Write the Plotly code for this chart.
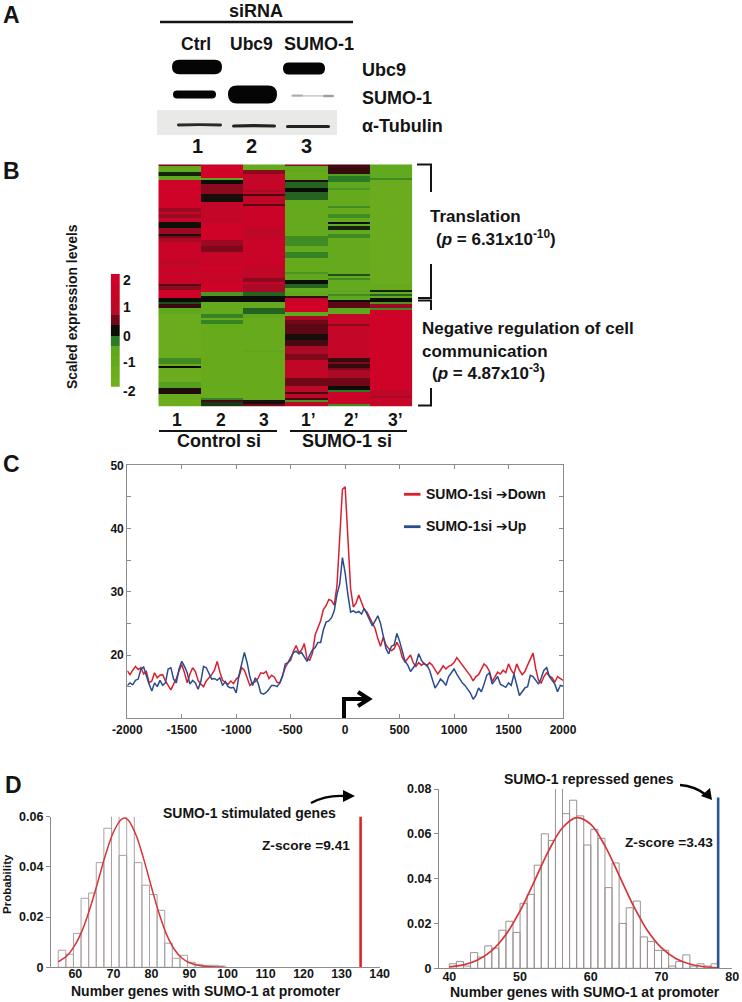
import plotly.graph_objects as go

W, H = 742, 1002
FONT = "Liberation Sans, DejaVu Sans, sans-serif"
INK = "#141414"
AXIS = "#8c8c8c"

# ---- Panel B heat map: (value, number of rows) per sample column, 121 rows
heat_col1 = [(0.6,1),(-1,1),(-1.3,2),(-0.1,2),(-1,2),(1.8,14),(0.8,2),(1.4,1),(0.8,2),(1.4,2),(0.02,3),(0.8,3),(0.1,1),(0.6,1),(0.9,2),(1.6,9),(1.3,3),(1.6,3),(1.0,1),(1.7,4),(1.0,1),
             (0.4,1),(0.7,2),(1.8,4),(0,2),(-0.3,1),(0.2,2),(-1,3),(-1.5,22),(-0.7,3),(-1.5,1),(0,1),(-1.5,7),(-0.9,3),(0.1,3),(-1.4,3),(-1.6,3)]
heat_col2 = [(1.0,1),(1.9,6),(-1,1),(0,2),(0.7,5),(0.05,4),(1.4,9),(1.0,1),(1.8,9),(0.8,3),(0.6,3),(1.5,7),(1.9,2),(1.5,7),
             (1.8,4),(-0.8,2),(0,3),(-1.3,6),(-0.6,2),(-1.5,1),(-0.6,2),(-1.4,37),(-0.6,1),(0.3,1),(-0.2,2)]
heat_col3 = [(-1.2,3),(0.7,2),(1.4,8),(0.9,1),(1.3,1),(0.3,1),(1.3,4),(0.4,1),(1.7,11),(1.2,5),(1.6,14),(1.3,6),(0.7,2),(1.5,1),
             (0.9,4),(-0.4,2),(0,3),(-1.2,3),(-0.4,3),(-1,2),(-1.4,16),(-1,1),(-1.4,24),(0.05,2),(0.5,1)]
heat_col4 = [(0.7,1),(-1,3),(-1.4,1),(-1.3,3),(0.1,1),(-0.4,3),(0,2),(-0.4,4),(-1.3,18),(-0.7,5),(-1.2,3),(-0.6,3),(-1.3,7),(-0.8,1),(-1,3),(0,2),
             (-0.4,2),(-1.2,2),(-1,2),(0.2,1),(1.0,1),(1.5,1),(1.9,5),(-1.1,2),(0.9,2),(0.5,2),(0.4,5),(0.05,3),(0.3,3),(0.9,4),(0.6,3),(1.3,9),(0.5,4),(1.1,3),(0.3,1),(1.1,2),(0.3,1),(-0.8,1),(1.0,2)]
heat_col5 = [(0.3,2),(0.2,3),(-0.9,1),(-0.5,3),(-1,3),(-0.8,1),(-1.3,8),(-0.7,1),(-1.3,3),(-0.7,2),(-1.2,2),(0,1),(-1.2,1),(-0.1,2),(-1.2,2),(-0.7,2),(-1.3,18),(-0.3,1),(-1.3,1),(-0.7,1),(-1.2,2),
             (-1.2,3),(-1,1),(-1.1,1),(-0.7,1),(-1,2),(0,1),(0.4,3),(-1,3),(1.4,5),(0.7,1),(1.4,16),(0.2,2),(0.6,1),(0.2,2),(0.6,1),(0.9,4),(0.5,4),(0,2),(-0.5,1),(1.7,6),(-0.7,1)]
heat_col6 = [(-1.1,7),(-0.7,1),(-1.5,52),(-1.3,3),(-0.1,1),(-1.2,1),(-0.4,1),(-1.1,1),(0,2),(-0.8,1),(0.8,2),(-0.7,1),(1.8,40),(1.3,3),(0.9,1),(1.5,4)]
heat_samples = ["1", "2", "3", "1’", "2’", "3’"]
legend_levels = [-1.9, -1.6, -1.3, -1.0, -0.5, 0.0, 0.5, 1.0, 1.3, 1.6, 1.9]

# ---- Panel C profiles, one value every 25 bp from -2000 to 2000
profile_step = 25
profile_ticks = [-2000, -1500, -1000, -500, 0, 500, 1000, 1500, 2000]
profile_tick_labels = ["-2000", "-1500", "-1000", "-500", "0", "500", "1000", "1500", "2000"]
profile_y_ticks = [20, 30, 40, 50]
profile_y_minor = [15, 25, 35, 45]
sumo_down = [
 17.5,16.9,17.6,18.2,17.7,18.0,17.0,17.4,15.6,15.9,17.2,16.4,16.8,16.9,15.9,15.1,
 14.5,15.4,16.3,17.5,18.5,17.2,15.6,17.0,18.0,17.4,16.0,15.4,15.0,15.9,16.4,16.9,
 17.6,19.0,17.3,16.0,15.7,15.4,15.9,15.5,16.2,16.6,18.0,17.6,16.4,15.2,15.6,15.8,
 16.3,17.2,17.1,17.4,16.3,16.8,16.5,15.7,15.6,16.8,18.0,18.8,19.2,20.6,21.5,20.4,
 20.8,21.8,19.4,19.2,20.3,23.2,24.2,25.4,27.2,27.8,28.8,28.6,27.9,31.0,38.5,46.2,
 46.6,39.0,30.5,27.6,28.2,29.5,28.4,27.2,26.8,26.0,25.2,24.2,22.6,21.4,22.8,21.6,
 21.0,20.7,21.0,22.0,21.2,19.6,18.9,19.4,20.0,18.8,18.2,18.8,18.4,18.7,18.3,18.8,
 18.4,17.7,17.0,17.6,18.3,17.8,18.2,18.4,18.8,19.6,19.0,18.6,18.0,17.3,16.7,15.9,
 16.6,16.9,17.8,18.6,18.2,17.4,15.8,16.6,17.3,17.0,17.6,17.2,18.6,17.6,17.0,18.6,
 17.6,16.9,17.4,18.4,19.4,20.3,17.8,16.0,15.6,16.6,17.2,16.7,16.4,15.7,16.6,16.3,
 16.0]
sumo_up = [
 15.2,15.6,15.3,16.0,16.2,17.8,18.1,16.6,15.4,14.3,15.6,15.0,16.0,15.2,15.6,17.8,
 18.0,16.2,15.6,17.8,19.0,18.2,17.2,15.4,16.0,15.6,14.6,15.8,18.2,18.0,17.2,16.2,
 16.3,16.0,16.4,15.2,15.8,15.0,14.8,14.9,14.0,16.8,18.6,20.4,18.8,16.6,15.2,16.4,
 15.6,14.0,13.8,14.1,14.6,15.2,15.2,15.0,15.6,16.6,18.6,18.8,19.6,20.4,20.6,20.2,
 20.4,19.8,19.0,20.0,20.8,21.2,22.0,22.0,24.0,25.2,25.4,25.9,27.0,29.6,31.2,35.4,
 33.0,29.6,26.8,27.0,26.7,26.9,26.5,27.4,26.4,25.6,24.6,25.4,26.2,25.0,22.8,21.0,
 20.2,21.4,21.6,23.4,22.2,20.6,19.0,18.4,17.4,18.0,18.6,20.2,19.2,18.6,18.4,17.6,
 16.2,14.8,15.4,16.2,15.8,15.2,16.6,17.2,17.8,17.0,16.2,15.6,15.2,14.6,14.0,13.0,
 13.6,14.8,14.2,15.4,16.8,17.2,15.4,16.0,16.6,15.4,15.2,14.9,15.6,15.2,17.0,15.2,
 13.6,14.2,14.8,15.0,16.8,16.6,15.9,15.4,16.4,17.6,18.0,16.6,16.0,15.4,14.2,15.2,
 15.1]
profile_x = [-2000 + profile_step * i for i in range(len(sumo_down))]

# ---- Panel D left histogram and fit
stim_centres = [56.5,58.5,60.5,62.5,64.5,66.5,68.5,70.5,72.5,74.5,76.5,78.5,80.5,82.5,84.5,86.5,88.5,90.5,92.5,94.5,96.5,98.5]
stim_prob = [0.0068,0.0052,0.0135,0.0275,0.0296,0.0417,0.0554,0.0647,0.0446,0.0656,0.0417,0.0327,0.0290,0.0227,0.0096,0.0036,0.0048,0.0020,0.0012,0.0008,0.0008,0.0005]
stim_fit_x = [55.5,58,60,62,64,66,68,70,72,73,74,76,78,80,82,84,86,88,90,92,94,96,99]
stim_fit_y = [0.0022,0.0049,0.0091,0.0154,0.0242,0.0345,0.0451,0.0538,0.0588,0.0595,0.0585,0.0525,0.0430,0.0320,0.0215,0.0130,0.0072,0.0037,0.0018,0.0009,0.0004,0.0002,0.0001]
stim_observed = 135
stim_line_top = 0.0686

# ---- Panel D right histogram and fit
rep_centres = [40.5,41.5,42.5,43.5,44.5,45.5,46.5,47.5,48.5,49.5,50.5,51.5,52.5,53.5,54.5,55.5,56.5,57.5,58.5,59.5,60.5,61.5,62.5,63.5,64.5,65.5,66.5,67.5,68.5,69.5,70.5,71.5,72.5,73.5,74.5,75.5,76.5,77.5]
rep_prob = [0.002,0.003,0.001,0.007,0.005,0.010,0.009,0.017,0.021,0.016,0.029,0.033,0.046,0.060,0.057,0.081,0.069,0.075,0.068,0.055,0.062,0.058,0.036,0.047,0.020,0.027,0.030,0.014,0.012,0.008,0.008,0.001,0.003,0.006,0.001,0.002,0.001,0.002]
rep_fit_x = [40,42,44,46,48,50,52,54,56,58,60,62,64,66,68,70,72,74,76,78]
rep_fit_y = [0.0006,0.0015,0.0037,0.0079,0.0151,0.0256,0.0387,0.0522,0.0627,0.0672,0.0642,0.0546,0.0415,0.0281,0.0169,0.0091,0.0044,0.0019,0.0007,0.0002]
rep_observed = 78
rep_line_top = 0.0762


def expand(runs):
    out = []
    for value, n in runs:
        out.extend([value] * n)
    return out


def px(x):
    return x / W


def py(y):
    return 1 - y / H


def dom_x(a, b):
    return [px(a), px(b)]


def dom_y(top, bottom):
    return [py(bottom), py(top)]


def path(cmds, fill=None, color=INK, width=0, layer="above"):
    s = " ".join(c if isinstance(c, str) else f"{px(c[0]):.5f},{py(c[1]):.5f}" for c in cmds)
    d = dict(type="path", xref="paper", yref="paper", path=s, layer=layer,
             line=dict(color=color, width=width))
    if fill:
        d["fillcolor"] = fill
    return d


def pill(x0, x1, yc, h, fill="#050505", sag=0.0):
    r = h / 2
    return path(["M", (x0 + r, yc - r), "Q", ((x0 + x1) / 2, yc - r + sag), (x1 - r, yc - r),
                 "Q", (x1, yc - r), (x1, yc), "Q", (x1, yc + r), (x1 - r, yc + r),
                 "Q", ((x0 + x1) / 2, yc + r + sag), (x0 + r, yc + r),
                 "Q", (x0, yc + r), (x0, yc), "Q", (x0, yc - r), (x0 + r, yc - r), "Z"], fill=fill)


def rule(x0, y0, x1, y1, width=2.2, color=INK):
    return dict(type="line", xref="paper", yref="paper", x0=px(x0), y0=py(y0), x1=px(x1), y1=py(y1),
                line=dict(color=color, width=width), layer="above")


def txt(x, y, s, size=14, anchor="center", angle=0, color=INK):
    return dict(x=px(x), y=py(y), xref="paper", yref="paper", text=f"<b>{s}</b>", showarrow=False,
                xanchor=anchor, yanchor="middle", textangle=angle,
                font=dict(family=FONT, size=size, color=color))


heat_scale = [
    [0.0, "#74b01c"], [0.25, "#5fa81e"], [0.375, "#2b7a26"], [0.5, "#0d0d08"],
    [0.625, "#700818"], [0.75, "#b90a28"], [1.0, "#d40028"],
]
columns = [expand(c) for c in (heat_col1, heat_col2, heat_col3, heat_col4, heat_col5, heat_col6)]
heat_z = [list(row) for row in zip(*columns)]

fig = go.Figure()

# Heat map and its colour key
fig.add_trace(go.Heatmap(z=heat_z, x=heat_samples, colorscale=heat_scale, zmin=-2, zmax=2,
                         showscale=False, xaxis="x4", yaxis="y4", hoverinfo="skip"))
fig.add_trace(go.Heatmap(z=[[v] for v in legend_levels], colorscale=heat_scale, zmin=-2, zmax=2,
                         showscale=False, xaxis="x5", yaxis="y5", hoverinfo="skip"))

# Profiles
fig.add_trace(go.Scatter(x=profile_x, y=sumo_down, mode="lines", line=dict(color="#d8202f", width=1.5),
                         xaxis="x", yaxis="y", showlegend=False))
fig.add_trace(go.Scatter(x=profile_x, y=sumo_up, mode="lines", line=dict(color="#2a4b8d", width=1.5),
                         xaxis="x", yaxis="y", showlegend=False))

# Left histogram
fig.add_trace(go.Bar(x=stim_centres, y=stim_prob, width=2, marker=dict(color="rgba(255,255,255,0)", line=dict(color="#aaa2a2", width=1)),
                     cliponaxis=False, xaxis="x2", yaxis="y2", showlegend=False))
fig.add_trace(go.Scatter(x=stim_fit_x, y=stim_fit_y, mode="lines", line=dict(color="#d6353a", width=1.5, shape="spline"),
                         cliponaxis=False, xaxis="x2", yaxis="y2", showlegend=False))
fig.add_trace(go.Scatter(x=[stim_observed, stim_observed], y=[0, stim_line_top], mode="lines",
                         line=dict(color="#d8252c", width=2.6), cliponaxis=False, xaxis="x2", yaxis="y2", showlegend=False))

# Right histogram
fig.add_trace(go.Bar(x=rep_centres, y=rep_prob, width=1, marker=dict(color="rgba(255,255,255,0)", line=dict(color="#9a9292", width=1)),
                     cliponaxis=False, xaxis="x3", yaxis="y3", showlegend=False))
fig.add_trace(go.Scatter(x=rep_fit_x, y=rep_fit_y, mode="lines", line=dict(color="#d6353a", width=1.7, shape="spline"),
                         cliponaxis=False, xaxis="x3", yaxis="y3", showlegend=False))
fig.add_trace(go.Scatter(x=[rep_observed, rep_observed], y=[0, rep_line_top], mode="lines",
                         line=dict(color="#2b5396", width=2.6), cliponaxis=False, xaxis="x3", yaxis="y3", showlegend=False))

tick_font = dict(family=FONT, size=12, color=INK, weight=700)
tick_font_d = dict(family=FONT, size=12.5, color=INK, weight=700)
hidden = dict(visible=False, showgrid=False, zeroline=False, automargin=False)

shapes = [
    # Panel A header rule
    rule(160, 22, 353, 22, 2.6),
    # Blots
    dict(type="rect", xref="paper", yref="paper", x0=px(157), x1=px(337), y0=py(135), y1=py(110),
         fillcolor="#e9e9e7", line=dict(width=0), layer="above"),
    pill(172, 222, 67, 14.5),
    pill(283, 325, 68.5, 12),
    pill(173, 216, 94.5, 8),
    pill(228, 277, 94.5, 18),
    pill(291, 334, 95.8, 1.8, fill="#d0d0d0"),
    pill(292, 303, 95.5, 2.2, fill="#adadad"),
    pill(323, 334, 96, 2.6, fill="#a0a0a0"),
    pill(177, 222, 125, 2.8, fill="#2a2a2a", sag=-0.8),
    pill(232, 276, 126, 3.2, fill="#222222", sag=-0.8),
    pill(286, 330, 126.5, 3.2, fill="#222222"),
    # Heat map brackets
    path(["M", (417, 164.5), "L", (431, 164.5), "L", (431, 192)], color=INK, width=2),
    path(["M", (431, 264), "L", (431, 298), "L", (418, 298)], color=INK, width=2),
    path(["M", (418, 300.5), "L", (431, 300.5), "L", (431, 310)], color=INK, width=2),
    path(["M", (431, 388), "L", (431, 405.5), "L", (418, 405.5)], color=INK, width=2),
    # Group rules under the heat map
    rule(159, 431, 277, 431, 2.2),
    rule(290, 431, 407, 431, 2.2),
    # Profile legend swatches
    rule(404, 494.3, 420.5, 494.3, 2.8, "#d8202f"),
    rule(404, 526.7, 420.5, 526.7, 2.8, "#2a4b8d"),
    # Transcription start arrow
    path(["M", (344, 718), "L", (344, 699), "L", (367, 699)], color="#050505", width=4),
    path(["M", (358, 692), "L", (369, 699), "L", (358, 706)], color="#050505", width=4),
    # Curved call-out arrows in panel D
    path(["M", (311, 803), "Q", (326, 795), (344, 796)], color="#050505", width=2.4),
    path(["M", (343, 790), "L", (355, 796), "L", (343, 802), "Z"], fill="#050505"),
    path(["M", (680, 785), "Q", (695, 786), (706, 795)], color="#050505", width=2.4),
    path(["M", (710, 788), "L", (712, 800), "L", (701, 796), "Z"], fill="#050505"),
]

annotations = [
    txt(11, 15, "A", 23), txt(11, 171, "B", 23), txt(11, 464, "C", 23), txt(13, 785, "D", 23),
    txt(255.7, 11, "siRNA", 18),
    txt(196, 44, "Ctrl", 17.5), txt(252, 44, "Ubc9", 17.5), txt(319, 44, "SUMO-1", 18),
    txt(360, 70, "Ubc9", 18, "left"), txt(360, 98, "SUMO-1", 18, "left"), txt(360, 126, "α-Tubulin", 18, "left"),
    txt(197, 146, "1", 20), txt(252, 146, "2", 20), txt(306, 146, "3", 20),
    txt(72, 307, "Scaled expression levels", 13.9, angle=-90),
    txt(121, 280, "2", 14, "left"), txt(121, 307, "1", 14, "left"), txt(121, 336, "0", 14, "left"),
    txt(121, 362, "-1", 14, "left"), txt(121, 391, "-2", 14, "left"),
    txt(176.7, 420, "1", 17.5), txt(221, 420, "2", 17.5), txt(264, 420, "3", 17.5),
    txt(308, 420, "1’", 17.5), txt(351, 420, "2’", 17.5), txt(395, 420, "3’", 17.5),
    txt(219, 441, "Control si", 18), txt(347, 441, "SUMO-1 si", 18),
    txt(428, 216, "Translation", 17, "left"),
    txt(434, 238, "(<i>p</i> = 6.31x10<sup>-10</sup>)", 17, "left"),
    txt(420, 328, "Negative regulation of cell", 17, "left"),
    txt(420, 351, "communication", 17, "left"),
    txt(430, 372, "(<i>p</i> = 4.87x10<sup>-3</sup>)", 17, "left"),
    txt(424, 494, "SUMO-1si ➔Down", 14, "left"),
    txt(424, 526, "SUMO-1si ➔Up", 14, "left"),
    txt(249, 813, "SUMO-1 stimulated genes", 14),
    txt(306, 845, "Z-score =9.41", 13.7),
    txt(206, 991, "Number genes with SUMO-1 at promoter", 14),
    txt(589, 779, "SUMO-1 repressed genes", 14),
    txt(669, 842, "Z-score =3.43", 13.7),
    txt(585, 992, "Number genes with SUMO-1 at promoter", 14),
    txt(7, 884, "Probability", 11.5, angle=-90),
]

fig.update_layout(
    width=W, height=H, autosize=False, margin=dict(l=0, r=0, t=0, b=0, autoexpand=False),
    paper_bgcolor="white", plot_bgcolor="white", showlegend=False,
    barmode="overlay", hovermode=False, shapes=shapes, annotations=annotations,
    # Panel C
    xaxis=dict(domain=dom_x(127.3, 563), range=[-2000, 2000], tickvals=profile_ticks, ticktext=profile_tick_labels,
               showline=True, linecolor=AXIS, linewidth=1.3, mirror="ticks", ticks="inside", ticklen=4,
               tickcolor=AXIS, showgrid=False, zeroline=False, tickfont=tick_font, anchor="y", automargin=False),
    yaxis=dict(domain=dom_y(465.3, 718.3), range=[10, 50], tickvals=profile_y_ticks,
               minor=dict(tickvals=profile_y_minor, ticks="inside", ticklen=4, tickcolor=AXIS),
               showline=True, linecolor=AXIS, linewidth=1.3, mirror="ticks", ticks="inside", ticklen=4,
               tickcolor=AXIS, showgrid=False, zeroline=False, tickfont=tick_font, anchor="x", automargin=False),
    # Panel D left
    xaxis2=dict(domain=dom_x(51, 380), range=[53.6, 140.1], tickvals=list(range(60, 141, 10)),
                showline=True, linecolor=AXIS, linewidth=1.3, ticks="", showgrid=False, zeroline=False,
                tickfont=tick_font_d, anchor="y2", automargin=False, ticklabelstandoff=-5),
    yaxis2=dict(domain=dom_y(816.7, 967.3), range=[0, 0.06], tickvals=[0, 0.02, 0.04, 0.06],
                ticktext=["0", "0.02", "0.04", "0.06"], showline=True, linecolor=AXIS, linewidth=1.3,
                ticks="outside", ticklen=4, tickcolor=AXIS, showgrid=False, zeroline=False,
                tickfont=tick_font_d, anchor="x2", automargin=False),
    # Panel D right
    xaxis3=dict(domain=dom_x(439, 732.3), range=[38.54, 80], tickvals=[40, 50, 60, 70, 80],
                showline=True, linecolor=AXIS, linewidth=1.3, ticks="", showgrid=False, zeroline=False,
                tickfont=tick_font_d, anchor="y3", automargin=False, ticklabelstandoff=-3),
    yaxis3=dict(domain=dom_y(789, 968.3), range=[0, 0.08], tickvals=[0, 0.02, 0.04, 0.06, 0.08],
                ticktext=["0", "0.02", "0.04", "0.06", "0.08"], showline=True, linecolor=AXIS, linewidth=1.3,
                ticks="outside", ticklen=4, tickcolor=AXIS, showgrid=False, zeroline=False,
                tickfont=tick_font_d, anchor="x3", automargin=False),
    # Heat map
    xaxis4=dict(domain=dom_x(158.3, 412.3), anchor="y4", **hidden),
    yaxis4=dict(domain=dom_y(164.3, 406.7), autorange="reversed", anchor="x4", **hidden),
    # Colour key
    xaxis5=dict(domain=dom_x(110.7, 120), anchor="y5", **hidden),
    yaxis5=dict(domain=dom_y(274, 386.7), anchor="x5", **hidden),
)

fig.write_html("out.html", post_script="document.body.style.margin='0';", config=dict(displayModeBar=False))
